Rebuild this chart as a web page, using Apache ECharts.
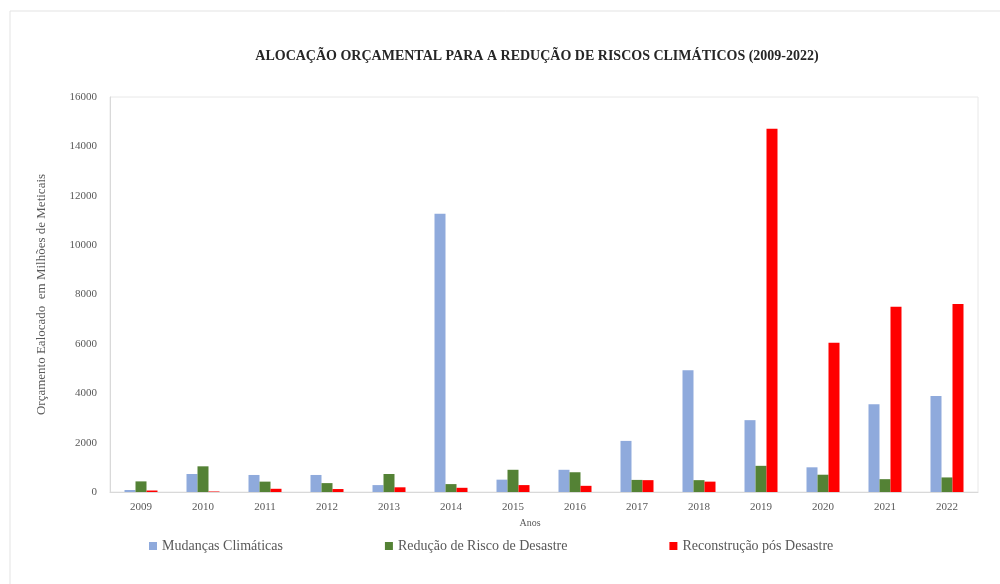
<!DOCTYPE html>
<html>
<head>
<meta charset="utf-8">
<script src="https://cdn.jsdelivr.net/npm/echarts@6/dist/echarts.min.js"></script>
<style>
  html, body { margin: 0; padding: 0; background: #fff; }
  #chart { width: 1000px; height: 584px; }
</style>
</head>
<body>
<div id="chart"></div>
<script>
// anos
var anos = ['2009', '2010', '2011', '2012', '2013', '2014', '2015', '2016', '2017', '2018', '2019', '2020', '2021', '2022'];
// valores em milhões de meticais
var mudancasClimaticas = [80, 730, 690, 690, 280, 11270, 500, 900, 2070, 4930, 2910, 1000, 3550, 3890];
var reducaoRisco = [430, 1040, 420, 360, 730, 320, 900, 800, 490, 480, 1060, 700, 520, 590];
var reconstrucao = [60, 20, 130, 120, 190, 170, 280, 250, 480, 420, 14710, 6050, 7500, 7620];

var serif = '"Liberation Serif", "DejaVu Serif", serif';
var cinza = '#595959';

var chart = echarts.init(document.getElementById('chart'));
var option = {
    backgroundColor: '#fff',
    animation: false,
    graphic: [{
        type: 'rect',
        shape: { x: 10, y: 11, width: 1000, height: 600 },
        style: { fill: 'none', stroke: '#e3e3e3', lineWidth: 1 },
        silent: true
    }],
    title: {
        text: 'ALOCAÇÃO ORÇAMENTAL PARA A REDUÇÃO DE RISCOS CLIMÁTICOS (2009-2022)',
        left: 532,
        textAlign: 'center',
        top: 44,
        textStyle: {
            fontFamily: serif,
            fontWeight: 'bold',
            fontSize: 14,
            color: '#262626'
        }
    },
    legend: {
        left: 144,
        top: 534,
        itemWidth: 8,
        itemHeight: 8,
        itemGap: 102,
        icon: 'rect',
        textStyle: { fontFamily: serif, fontSize: 14, color: cinza },
        data: ['Mudanças Climáticas', 'Redução de Risco de Desastre', 'Reconstrução pós Desastre']
    },
    grid: {
        left: 110,
        right: 22,
        top: 97,
        bottom: 92,
        show: true,
        borderColor: '#e8e8e8',
        borderWidth: 1
    },
    xAxis: {
        type: 'category',
        data: anos,
        name: 'Anos',
        nameLocation: 'middle',
        nameGap: 24,
        nameTextStyle: { fontFamily: serif, fontSize: 10, color: cinza, padding: [0, 28, 0, 0] },
        axisLine: { lineStyle: { color: '#d9d9d9' } },
        axisTick: { show: false },
        axisLabel: { fontFamily: serif, fontSize: 11, color: cinza, margin: 10 }
    },
    yAxis: {
        type: 'value',
        min: 0,
        max: 16000,
        interval: 2000,
        name: 'Orçamento Ealocado  em Milhões de Meticais',
        nameLocation: 'middle',
        nameGap: 62,
        nameTextStyle: { fontFamily: serif, fontSize: 13, color: cinza },
        axisLine: { show: true, lineStyle: { color: '#d9d9d9' } },
        axisTick: { show: false },
        splitLine: { show: false },
        axisLabel: {
            fontFamily: serif, fontSize: 11, color: cinza, margin: 13,
            formatter: function (v) { return String(v); }
        }
    },
    series: [
        {
            name: 'Mudanças Climáticas',
            type: 'bar',
            data: mudancasClimaticas,
            barWidth: 11,
            barGap: '0%',
            itemStyle: { color: '#8FAADC' }
        },
        {
            name: 'Redução de Risco de Desastre',
            type: 'bar',
            data: reducaoRisco,
            barWidth: 11,
            barGap: '0%',
            itemStyle: { color: '#548235' }
        },
        {
            name: 'Reconstrução pós Desastre',
            type: 'bar',
            data: reconstrucao,
            barWidth: 11,
            barGap: '0%',
            itemStyle: { color: '#FF0000' }
        }
    ]
};
chart.setOption(option);
</script>
</body>
</html>
